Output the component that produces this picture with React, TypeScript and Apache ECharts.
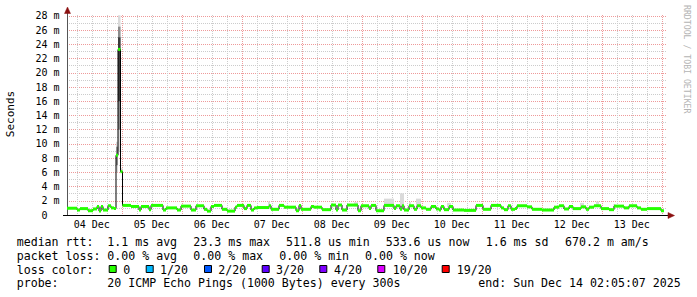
import React, { useEffect, useRef } from 'react';
import * as echarts from 'echarts';

// ---- time frame (hours after 04 Dec 00:00) ----
const START_H = 2 + 5 / 60 + 7 / 3600; // Thu Dec 4 02:05:07
const SPAN_H = 240; // 10 days
const Y_MAX = 28.14; // ms

// ---- axis labels ----
const dayLabels = ['04 Dec', '05 Dec', '06 Dec', '07 Dec', '08 Dec', '09 Dec', '10 Dec', '11 Dec', '12 Dec', '13 Dec'];
const dayLabelHours = [12, 36, 60, 84, 108, 132, 156, 180, 204, 228];
const yTickValues = [0, 2, 4, 6, 8, 10, 12, 14, 16, 18, 20, 22, 24, 26, 28];
const yMinorValues = [1, 3, 5, 7, 9, 11, 13, 15, 17, 19, 21, 23, 25, 27];

// ---- median rtt (ms), step starts in hours after graph start ----
const medianStartHour = [
  0, 4, 5.2, 8.4, 10.4, 12, 12.8, 13.6, 14.4, 16.4, 17.6, 18.8, 19.6, 20.4, 21.4, 22.2, 25.6, 28.8, 29.6, 32.8,
  33.6, 38.4, 39.6, 44, 45.6, 49.6, 51.6, 54.8, 56, 57.6, 58.8, 62, 64, 67.2, 68, 70.8, 72, 73.6, 74.8, 76,
  80.8, 81.6, 84.8, 86.8, 91.6, 92.8, 93.6, 97.6, 98.8, 102, 105.6, 107.6, 108.4, 110, 112, 116.4, 117.6, 120.8, 121.6, 123.6,
  126.8, 130.8, 131.6, 133.2, 134, 134.8, 136.8, 138.8, 140, 141.6, 143.6, 145.6, 147.6, 148.8, 149.6, 150.8, 152.8, 154.4, 158.8, 163.6,
  166.4, 169.6, 173.6, 174.8, 176.4, 177.6, 179.2, 180, 184, 186, 190, 194.8, 196.8, 198.8, 200.8, 202.4, 205.6, 207.6, 208.8, 210.8,
  213.6, 216.8, 218.8, 222.8, 224.8, 228, 229.6, 232, 237.6,
];
const medianMs = [
  0.95, 0.7, 0.9, 0.6, 0.85, 1.2, 0.55, 1.2, 0.7, 1.3, 1.0, 0.9, 8.4, 23.3, 6.1, 1.35, 1.2, 0.7, 1.2, 0.75,
  1.35, 0.7, 1.0, 0.7, 1.25, 0.7, 1.3, 0.8, 0.55, 1.2, 1.35, 0.8, 0.55, 1.1, 1.35, 0.9, 1.35, 0.7, 1.0, 1.05,
  1.3, 0.8, 1.35, 1.1, 0.6, 1.35, 0.8, 1.2, 1.1, 0.75, 1.4, 0.7, 1.4, 0.7, 1.4, 0.6, 1.3, 0.9, 1.35, 0.6,
  1.35, 0.9, 1.3, 0.8, 1.3, 0.7, 1.3, 0.8, 1.3, 1.0, 0.8, 1.2, 0.85, 0.7, 1.2, 0.75, 1.2, 0.7, 0.65, 1.35,
  0.8, 1.35, 1.0, 0.75, 1.3, 0.8, 0.9, 1.3, 1.15, 0.8, 0.7, 1.1, 1.3, 0.85, 1.2, 0.9, 1.15, 0.8, 1.1, 1.3,
  0.9, 0.75, 1.25, 1.0, 1.3, 1.0, 0.8, 0.9, 0.6,
];
const medianEndHour = 238.8;

// ---- smoke (ping spread), [startHour, endHour, low ms, high ms] ----
const smokeOuter = [
  [19.6, 20.4, 6.0, 10.3],
  [20.4, 21.4, 9.0, 28.1],
  [21.4, 22.2, 5.9, 6.6],
  [80.4, 81.2, 1.2, 1.9],
  [114.8, 116.4, 1.2, 1.8],
  [126.8, 130.8, 1.2, 2.3],
  [133.2, 134.8, 1.2, 3.05],
  [136.8, 137.6, 1.2, 1.8],
  [139.6, 141.6, 1.2, 2.3],
  [152, 153.6, 1.1, 1.7],
  [205.2, 206.8, 1.1, 1.7],
  [211.6, 212.8, 1.2, 1.9],
  [218.6, 219.4, 1.1, 1.55],
];
const smokeInner = [
  [19.6, 20.4, 7.0, 9.6],
  [20.4, 21.4, 12.0, 26.5],
];
const smokeCore = [
  [20.4, 21.4, 16.0, 25.0],
];

// ---- legend texts ----
const rttStats = ['1.1 ms avg', '23.3 ms max', '511.8 us min', '533.6 us now', '1.6 ms sd', '670.2 m am/s'];
const lossStats = ['0.00 % avg', '0.00 % max', '0.00 % min', '0.00 % now'];
const lossLabels = ['0', '1/20', '2/20', '3/20', '4/20', '10/20', '19/20'];
const lossColors = ['#26ff00', '#00b8ff', '#0059ff', '#5e00ff', '#7e00ff', '#dd00ff', '#ff0000'];
const probeText = '20 ICMP Echo Pings (1000 Bytes) every 300s';
const endText = 'end: Sun Dec 14 02:05:07 2025';

const MONO = '"DejaVu Sans Mono", monospace';
const MAJOR_GRID = '#ee9a9a';
const MINOR_GRID = '#cccccc';
const ARROW = '#8b1010';

export default function App() {
  const ref = useRef<HTMLDivElement>(null);

  useEffect(() => {
    if (!ref.current) return;
    const chart = echarts.init(ref.current, undefined, { renderer: 'svg' });

    const majorX: number[] = [];
    const minorX: number[] = [];
    for (let h = 0; h <= 252; h += 6) {
      if (h % 24 === 0) majorX.push(h);
      else minorX.push(h);
    }

    const segs = medianStartHour.map((s, i) => [
      START_H + s,
      START_H + (i + 1 < medianStartHour.length ? medianStartHour[i + 1] : medianEndHour),
      medianMs[i],
    ]);
    const stepPts = medianStartHour.map((s, i) => [START_H + s, medianMs[i]]);
    stepPts.push([START_H + medianEndHour, medianMs[medianMs.length - 1]]);

    const smokeSeries = (data: number[][], color: string, z: number) => ({
      type: 'custom',
      xAxisIndex: 0,
      yAxisIndex: 0,
      z,
      silent: true,
      data: data.map((d) => [START_H + d[0], START_H + d[1], d[2], d[3]]),
      encode: { x: [0, 1], y: [2, 3] },
      renderItem: (_p: any, api: any) => {
        const a = api.coord([api.value(0), api.value(3)]);
        const b = api.coord([api.value(1), api.value(2)]);
        return {
          type: 'rect',
          shape: { x: a[0], y: a[1], width: b[0] - a[0], height: b[1] - a[1] },
          style: { fill: color },
        };
      },
    });

    const text = (t: string, x: number, y: number, extra: any = {}) => ({
      type: 'text',
      x,
      y,
      z: 100,
      silent: true,
      style: {
        text: t,
        fill: '#000',
        fontFamily: MONO,
        fontSize: 11.6,
        textAlign: 'left',
        textVerticalAlign: 'middle',
        ...extra,
      },
    });

    const rttX = [107.3, 193.3, 286, 385.7, 485.7, 565];
    const lossX = [107.3, 193.3, 279.3, 365];
    const boxX = [108.7, 145.7, 204, 261.7, 319.3, 377.3, 441.7];
    const boxLabelX = [123.3, 160, 218.3, 276, 334, 392.7, 456.7];
    const L1 = 242, L2 = 255.5, L3 = 269.5, L4 = 283;

    const graphics: any[] = [
      {
        type: 'text', x: 10, y: 114, rotation: Math.PI / 2, silent: true, z: 100,
        style: { text: 'Seconds', fill: '#000', fontFamily: MONO, fontSize: 11, textAlign: 'center', textVerticalAlign: 'middle' },
      },
      {
        type: 'text', x: 687, y: 5, rotation: -Math.PI / 2, silent: true, z: 100,
        style: { text: 'RRDTOOL / TOBI OETIKER', fill: '#b4b4b4', fontFamily: MONO, fontSize: 8.2, textAlign: 'left', textVerticalAlign: 'middle' },
      },
      { type: 'line', z: 100, silent: true, shape: { x1: 67.5, y1: 15, x2: 67.5, y2: 11 }, style: { stroke: '#555', lineWidth: 1 } },
      { type: 'line', z: 100, silent: true, shape: { x1: 63, y1: 215.5, x2: 67, y2: 215.5 }, style: { stroke: '#000', lineWidth: 1 } },
      { type: 'line', z: 100, silent: true, shape: { x1: 667, y1: 215.5, x2: 670, y2: 215.5 }, style: { stroke: '#000', lineWidth: 1 } },
      {
        type: 'polygon', z: 100, silent: true,
        shape: { points: [[64.5, 13.5], [70.5, 13.5], [67.5, 7]] },
        style: { fill: ARROW, stroke: ARROW, lineWidth: 0.5 },
      },
      {
        type: 'polygon', z: 100, silent: true,
        shape: { points: [[668, 212.5], [668, 218.5], [674.5, 215.5]] },
        style: { fill: ARROW, stroke: ARROW, lineWidth: 0.5 },
      },
      text('median rtt:', 16.7, L1),
      ...rttStats.map((s, i) => text(s, rttX[i], L1)),
      text('packet loss:', 16.7, L2),
      ...lossStats.map((s, i) => text(s, lossX[i], L2)),
      text('loss color:', 16.7, L3),
      ...lossLabels.map((s, i) => text(s, boxLabelX[i], L3)),
      ...lossColors.map((c, i) => ({
        type: 'rect', silent: true, z: 100,
        shape: { x: boxX[i] + 0.5, y: 265.5, width: 7, height: 7 },
        style: { fill: c, stroke: '#000', lineWidth: 1 },
      })),
      text('probe:', 16.7, L4),
      text(probeText, 107.3, L4),
      text(endText, 478.3, L4),
    ];

    const option: any = {
      animation: false,
      backgroundColor: '#fff',
      grid: { left: 67, top: 15, width: 600, height: 200 },
      xAxis: [
        {
          type: 'value',
          min: START_H,
          max: START_H + SPAN_H,
          position: 'bottom',
          axisLine: { show: true, onZero: false, lineStyle: { color: '#000', width: 1 } },
          axisTick: { show: false, customValues: majorX },
          axisLabel: {
            show: true,
            customValues: dayLabelHours,
            formatter: (v: number) => dayLabels[Math.round((v - 12) / 24)] || '',
            fontFamily: MONO,
            fontSize: 10,
            color: '#000',
            margin: 4,
          },
          splitLine: { show: true, lineStyle: { color: MAJOR_GRID, type: [1, 1], width: 1 } },
        },
        {
          type: 'value',
          min: START_H,
          max: START_H + SPAN_H,
          position: 'top',
          axisLine: { show: false },
          axisTick: { show: false, customValues: minorX },
          axisLabel: { show: false },
          splitLine: { show: true, lineStyle: { color: MINOR_GRID, type: [1, 1], width: 1 } },
        },
      ],
      yAxis: [
        {
          type: 'value',
          min: 0,
          max: Y_MAX,
          axisLine: { show: true, lineStyle: { color: '#555', width: 1 } },
          axisTick: { show: false, customValues: yTickValues },
          axisLabel: {
            show: true,
            customValues: yTickValues,
            formatter: (v: number) => (v === 0 ? '0\u00a0\u00a0' : `${v} m`),
            fontFamily: MONO,
            fontSize: 10,
            color: '#000',
            margin: 7.5,
          },
          splitLine: { show: true, lineStyle: { color: MAJOR_GRID, type: [1, 1], width: 1 } },
        },
        {
          type: 'value',
          min: 0,
          max: Y_MAX,
          position: 'left',
          axisLine: { show: false },
          axisTick: { show: false, customValues: yMinorValues },
          axisLabel: { show: false },
          splitLine: { show: true, lineStyle: { color: MINOR_GRID, type: [1, 1], width: 1 } },
        },
      ],
      series: [
        smokeSeries(smokeOuter, '#dadada', 2),
        smokeSeries(smokeInner, '#8c8c8c', 3),
        smokeSeries(smokeCore, '#3c3c3c', 4),
        {
          type: 'line',
          xAxisIndex: 0,
          yAxisIndex: 0,
          step: 'end',
          data: stepPts,
          showSymbol: false,
          symbol: 'none',
          silent: true,
          z: 5,
          lineStyle: { color: '#000', width: 1 },
        },
        {
          type: 'custom',
          xAxisIndex: 0,
          yAxisIndex: 0,
          z: 6,
          silent: true,
          data: segs,
          encode: { x: [0, 1], y: 2 },
          renderItem: (_p: any, api: any) => {
            const a = api.coord([api.value(0), api.value(2)]);
            const b = api.coord([api.value(1), api.value(2)]);
            return {
              type: 'rect',
              shape: { x: a[0], y: a[1] - 1.5, width: b[0] - a[0], height: 3 },
              style: { fill: lossColors[0] },
            };
          },
        },
      ],
      graphic: graphics,
    };

    chart.setOption(option);
    return () => chart.dispose();
  }, []);

  return (
    <div
      ref={ref}
      style={{ position: 'fixed', left: 0, top: 0, width: 697, height: 297, background: '#fff' }}
    />
  );
}
